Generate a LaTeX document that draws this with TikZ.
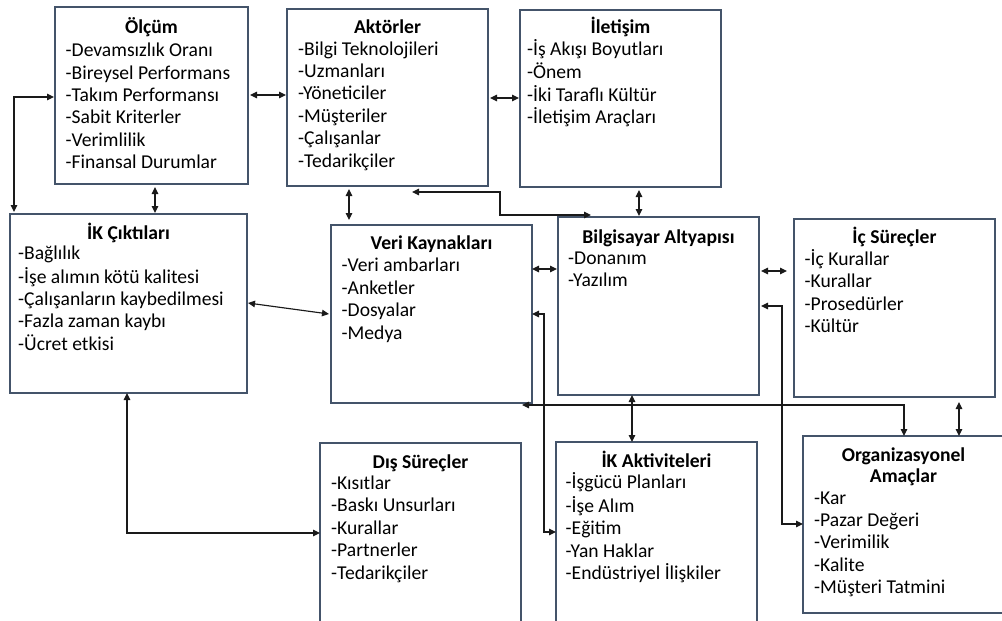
\documentclass[tikz,border=0pt]{standalone}
\usepackage{fontspec}
\setmainfont{Carlito}
\usetikzlibrary{arrows.meta,calc}
\definecolor{boxc}{HTML}{44546A}
\definecolor{linec}{HTML}{1A1A1A}
\begin{document}
\begin{tikzpicture}[x=1pt,y=-1pt,
  box/.style={draw=boxc,line width=1.1pt,fill=white,anchor=north west,inner sep=0pt,outer sep=0pt},
  ttl/.style={font=\fontsize{19.6}{22.4}\selectfont\bfseries,anchor=base,inner sep=0pt},
  itm/.style={font=\fontsize{19.6}{22.4}\selectfont,anchor=north west,inner sep=0pt,align=left},
  con/.style={line width=1.15pt,draw=linec,{Triangle[length=7pt,width=6.5pt]}-{Triangle[length=7pt,width=6.5pt]}}]
\clip (0,0) rectangle (1002,621);
\fill[white] (0,0) rectangle (1002,621);

% boxes
\node[box,minimum width=193pt,minimum height=177pt] (olc) at (55,7) {};
\node[box,minimum width=201pt,minimum height=177pt] (akt) at (287,9) {};
\node[box,minimum width=201pt,minimum height=177pt] (ile) at (520,10) {};
\node[box,minimum width=237pt,minimum height=179pt] (ikc) at (10,214) {};
\node[box,minimum width=201pt,minimum height=178pt] (veri) at (331,225) {};
\node[box,minimum width=201pt,minimum height=178pt] (bil) at (558,217) {};
\node[box,minimum width=201pt,minimum height=178pt] (ic) at (794,219) {};
\node[box,minimum width=201pt,minimum height=190pt] (dis) at (320,443) {};
\node[box,minimum width=201pt,minimum height=190pt] (ika) at (556,442) {};
\node[box,minimum width=201pt,minimum height=177pt] (org) at (803,436) {};

% titles
\node[ttl] (olct) at (olc.north |- 0,34) {Ölçüm};
\node[ttl] (aktt) at (akt.north |- 0,34) {Aktörler};
\node[ttl] (ilet) at (ile.north |- 0,34) {İletişim};
\node[ttl] (ikct) at (ikc.north |- 0,239) {İK Çıktıları};
\node[ttl] (verit) at (veri.north |- 0,249.5) {Veri Kaynakları};
\node[ttl] (bilt) at (bil.north |- 0,243) {Bilgisayar Altyapısı};
\node[ttl] (ict) at (ic.north |- 0,243) {İç Süreçler};
\node[ttl] (dist) at (dis.north |- 0,468.5) {Dış Süreçler};
\node[ttl] (ikat) at (ika.north |- 0,467.5) {İK Aktiviteleri};
\node[ttl] (orgta) at (org.north |- 0,461) {Organizasyonel};
\node[ttl] (orgtb) at (org.north |- 0,482.5) {Amaçlar};

% items
\node[itm] (olci) at (65.5,40.8) {\strut-Devamsızlık Oranı\\-Bireysel Performans\\-Takım Performansı\\-Sabit Kriterler\\-Verimlilik\\-Finansal Durumlar};
\node[itm] (akti) at (298,39.3) {\strut-Bilgi Teknolojileri\\-Uzmanları\\-Yöneticiler\\-Müşteriler\\-Çalışanlar\\-Tedarikçiler};
\node[itm] (ilei) at (527,39.3) {\strut-İş Akışı Boyutları\\-Önem\\-İki Taraflı Kültür\\-İletişim Araçları};
\node[itm] (ikci) at (18,243.5) {\strut-Bağlılık\\-İşe alımın kötü kalitesi\\-Çalışanların kaybedilmesi\\-Fazla zaman kaybı\\-Ücret etkisi};
\node[itm] (verii) at (341.5,256) {\strut-Veri ambarları\\-Anketler\\-Dosyalar\\-Medya};
\node[itm] (bili) at (568,248.3) {\strut-Donanım\\-Yazılım};
\node[itm] (ici) at (804.5,249.3) {\strut-İç Kurallar\\-Kurallar\\-Prosedürler\\-Kültür};
\node[itm] (disi) at (331,473.6) {\strut-Kısıtlar\\-Baskı Unsurları\\-Kurallar\\-Partnerler\\-Tedarikçiler};
\node[itm] (ikai) at (565.5,472.6) {\strut-İşgücü Planları\\-İşe Alım\\-Eğitim\\-Yan Haklar\\-Endüstriyel İlişkiler};
\node[itm] (orgi) at (814,488.3) {\strut-Kar\\-Pazar Değeri\\-Verimilik\\-Kalite\\-Müşteri Tatmini};

% connectors
\draw[con] ($(olc.east |- 0,95)+(2,0)$) -- ($(akt.west |- 0,95)+(-1,0)$);
\draw[con] ($(akt.east |- 0,98)+(2,0)$) -- ($(ile.west |- 0,98)+(-1,0)$);
\draw[con] ($(olc.west |- 0,97)+(-1,0)$) -| ($(ikc.north west)+(4,-2)$);
\draw[con] ($(olc.south -| 155,0)+(0,3)$) -- ($(ikc.north -| 155,0)+(0,-1)$);
\draw[con] ($(akt.south -| 349,0)+(0,3)$) -- ($(veri.north -| 349,0)+(0,-5)$);
\draw[con] ($(akt.south -| 412,0)+(0,6)$) -| ($(bil.north -| 500,0)+(0,-2)$) -- ($(bil.north -| 591,0)+(0,-2)$);
\draw[con] ($(ile.south -| 639,0)+(0,3)$) -- ($(bil.north -| 639,0)+(0,-1)$);
\draw[con] ($(ikc.east |- 0,303)+(1,0)$) -- ($(veri.west |- 0,314)+(-2,0)$);
\draw[con] (veri.east |- 0,269) -- ($(bil.west |- 0,269)+(-1,0)$);
\draw[con] ($(bil.east |- 0,271)+(2,0)$) -- ($(ic.west |- 0,271)+(-7,0)$);
\draw[con] (veri.east |- 0,314) -| ($(ika.west |- 0,532)+(-12,0)$) -- (ika.west |- 0,532);
\draw[con] ($(bil.east |- 0,306)+(2,0)$) -| ($(org.west |- 0,524)+(-21,0)$) -- (org.west |- 0,524);
\draw[con] ($(veri.south east)+(-10,2)$) -| (org.north -| 904,0);
\draw[con] (bil.south -| 632,0) -- (ika.north -| 632,0);
\draw[con] ($(ic.south -| 959,0)+(0,5)$) -- (org.north -| 959,0);
\draw[con] (ikc.south -| 127,0) |- (dis.west |- 0,533);
\end{tikzpicture}
\end{document}
